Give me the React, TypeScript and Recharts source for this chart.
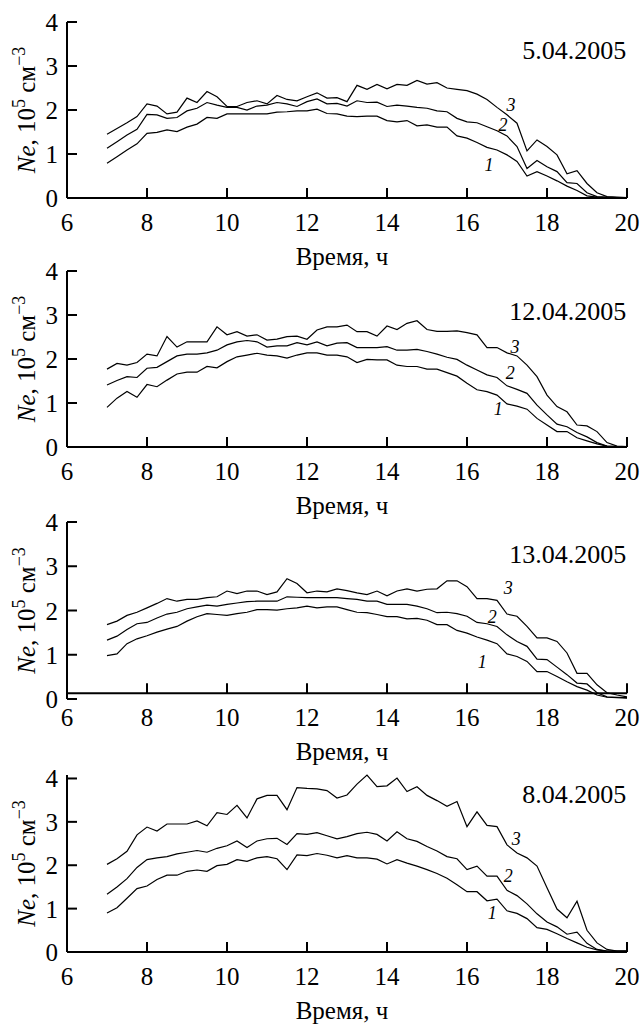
import React from "react";
import { LineChart, Line, XAxis, YAxis, ReferenceDot, ReferenceLine } from "recharts";

// time of day, hours (15-min sampling)
const TIMES = [
  7, 7.25, 7.5, 7.75, 8, 8.25, 8.5, 8.75, 9, 9.25, 9.5, 9.75, 10, 10.25, 10.5, 10.75,
  11, 11.25, 11.5, 11.75, 12, 12.25, 12.5, 12.75, 13, 13.25, 13.5, 13.75, 14, 14.25,
  14.5, 14.75, 15, 15.25, 15.5, 15.75, 16, 16.25, 16.5, 16.75, 17, 17.25, 17.5, 17.75,
  18, 18.25, 18.5, 18.75, 19, 19.25, 19.5, 19.75, 20,
];

// 5.04.2005
const APR05_1 = [
  0.79, 0.94, 1.09, 1.23, 1.47, 1.49, 1.55, 1.51, 1.61, 1.68, 1.83, 1.81,
  1.91, 1.91, 1.91, 1.91, 1.91, 1.95, 1.96, 1.98, 1.98, 2.02, 1.92, 1.91,
  1.86, 1.85, 1.86, 1.86, 1.76, 1.73, 1.76, 1.64, 1.66, 1.61, 1.61, 1.41,
  1.36, 1.26, 1.15, 1.09, 0.98, 0.83, 0.5, 0.6, 0.5, 0.39, 0.27, 0.17,
  0.05, 0.02, 0.01, 0.01, 0.01,
];
const APR05_2 = [
  1.13, 1.28, 1.43, 1.56, 1.9, 1.89, 1.81, 1.83, 1.98, 2.04, 2.17, 2.11,
  2.06, 2.06, 2.0, 2.09, 2.11, 2.17, 2.14, 2.08, 2.19, 2.25, 2.14, 2.15,
  2.09, 2.21, 2.17, 2.18, 2.08, 2.11, 2.09, 2.06, 2.04, 1.98, 1.96, 1.81,
  1.73, 1.71, 1.62, 1.53, 1.41, 1.17, 0.67, 0.85, 0.71, 0.6, 0.35, 0.33,
  0.12, 0.03, 0.02, 0.01, 0.01,
];
const APR05_3 = [
  1.45, 1.58, 1.71, 1.85, 2.14, 2.09, 1.91, 1.95, 2.27, 2.17, 2.42, 2.3,
  2.08, 2.08, 2.17, 2.21, 2.14, 2.33, 2.24, 2.21, 2.3, 2.39, 2.27, 2.28,
  2.19, 2.56, 2.47, 2.58, 2.48, 2.58, 2.56, 2.67, 2.59, 2.62, 2.5, 2.47,
  2.44, 2.36, 2.24, 2.06, 1.89, 1.7, 1.07, 1.32, 1.17, 0.98, 0.55, 0.62,
  0.33, 0.12, 0.03, 0.02, 0.01,
];

// 12.04.2005
const APR12_1 = [
  0.9, 1.11, 1.26, 1.13, 1.42, 1.37, 1.52, 1.66, 1.7, 1.7, 1.83, 1.8,
  1.94, 2.05, 2.09, 2.13, 2.09, 2.07, 2.02, 2.09, 2.14, 2.14, 2.09, 2.09,
  2.05, 1.92, 1.99, 1.98, 1.98, 1.86, 1.83, 1.83, 1.77, 1.77, 1.69, 1.61,
  1.45, 1.3, 1.26, 1.18, 0.98, 0.93, 0.86, 0.65, 0.5, 0.35, 0.35, 0.21,
  0.14, 0.07, 0.02, 0.01, 0.01,
];
const APR12_2 = [
  1.41, 1.51, 1.6, 1.58, 1.79, 1.81, 1.94, 2.07, 2.11, 2.11, 2.14, 2.2,
  2.32, 2.39, 2.42, 2.39, 2.27, 2.3, 2.3, 2.37, 2.32, 2.39, 2.3, 2.36,
  2.37, 2.26, 2.26, 2.26, 2.28, 2.2, 2.2, 2.22, 2.17, 2.11, 2.04, 1.99,
  1.86, 1.75, 1.64, 1.58, 1.39, 1.31, 1.22, 0.95, 0.73, 0.52, 0.46, 0.33,
  0.23, 0.1, 0.02, 0.01, 0.01,
];
const APR12_3 = [
  1.77, 1.9, 1.86, 1.92, 2.11, 2.07, 2.51, 2.27, 2.39, 2.39, 2.39, 2.73,
  2.55, 2.62, 2.52, 2.55, 2.43, 2.45, 2.51, 2.52, 2.45, 2.66, 2.73, 2.73,
  2.77, 2.62, 2.62, 2.52, 2.75, 2.67, 2.81, 2.87, 2.67, 2.63, 2.63, 2.64,
  2.6, 2.55, 2.26, 2.26, 2.14, 2.07, 1.86, 1.6, 1.18, 0.92, 0.8, 0.5,
  0.48, 0.35, 0.1, 0.02, 0.01,
];

// 13.04.2005
const APR13_1 = [
  0.98, 1.02, 1.25, 1.36, 1.43, 1.51, 1.58, 1.64, 1.76, 1.86, 1.93, 1.91,
  1.89, 1.93, 1.96, 2.02, 2.02, 2.01, 2.04, 2.06, 2.1, 2.06, 2.08, 2.08,
  2.02, 1.96, 1.95, 1.91, 1.86, 1.86, 1.81, 1.82, 1.78, 1.68, 1.68, 1.55,
  1.49, 1.4, 1.33, 1.25, 1.02, 0.96, 0.85, 0.62, 0.62, 0.51, 0.39, 0.28,
  0.2, 0.09, 0.04, 0.03, 0.02,
];
const APR13_2 = [
  1.33, 1.42, 1.57, 1.7, 1.73, 1.83, 1.92, 1.96, 2.04, 2.08, 2.12, 2.1,
  2.14, 2.17, 2.2, 2.21, 2.21, 2.21, 2.31, 2.3, 2.29, 2.29, 2.29, 2.29,
  2.27, 2.25, 2.21, 2.21, 2.14, 2.14, 2.14, 2.1, 2.04, 1.95, 1.96, 1.93,
  1.87, 1.73, 1.7, 1.64, 1.45, 1.3, 1.19, 0.9, 0.89, 0.72, 0.55, 0.36,
  0.34, 0.14, 0.05, 0.04, 0.03,
];
const APR13_3 = [
  1.68, 1.76, 1.89, 1.96, 2.06, 2.16, 2.27, 2.21, 2.25, 2.25, 2.29, 2.31,
  2.44, 2.38, 2.44, 2.44, 2.36, 2.42, 2.72, 2.61, 2.4, 2.44, 2.42, 2.49,
  2.45, 2.4, 2.36, 2.44, 2.33, 2.44, 2.49, 2.44, 2.48, 2.49, 2.67, 2.67,
  2.54, 2.27, 2.27, 2.23, 1.92, 1.87, 1.64, 1.38, 1.38, 1.3, 1.04, 0.58,
  0.58, 0.32, 0.14, 0.09, 0.05,
];

// 8.04.2005
const APR08_1 = [
  0.9, 1.02, 1.24, 1.46, 1.52, 1.67, 1.77, 1.77, 1.86, 1.89, 1.86, 1.99,
  2.02, 2.13, 2.09, 2.17, 2.2, 2.15, 1.9, 2.24, 2.22, 2.27, 2.23, 2.17,
  2.22, 2.17, 2.17, 2.14, 2.03, 2.13, 2.05, 1.98, 1.9, 1.81, 1.7, 1.55,
  1.39, 1.39, 1.18, 1.22, 0.95, 0.89, 0.77, 0.56, 0.52, 0.42, 0.31, 0.21,
  0.11, 0.05, 0.02, 0.02, 0.02,
];
const APR08_2 = [
  1.33, 1.5, 1.69, 1.95, 2.13, 2.17, 2.2, 2.26, 2.3, 2.34, 2.3, 2.39,
  2.45, 2.56, 2.41, 2.56, 2.61, 2.62, 2.48, 2.73, 2.71, 2.75, 2.68, 2.61,
  2.66, 2.73, 2.76, 2.71, 2.56, 2.77, 2.61, 2.55, 2.43, 2.33, 2.2, 2.15,
  1.9, 1.98, 1.75, 1.75, 1.42, 1.3, 1.11, 0.88, 0.69, 0.58, 0.41, 0.46,
  0.2, 0.06, 0.02, 0.02, 0.02,
];
const APR08_3 = [
  2.02, 2.15, 2.32, 2.7, 2.88, 2.79, 2.95, 2.95, 2.95, 3.02, 2.91, 3.21,
  3.17, 3.38, 3.09, 3.53, 3.61, 3.61, 3.28, 3.79, 3.77, 3.76, 3.72, 3.55,
  3.62, 3.87, 4.08, 3.81, 3.83, 4.01, 3.7, 3.81, 3.61, 3.49, 3.36, 3.47,
  2.89, 3.23, 2.92, 2.89, 2.47, 2.28, 2.17, 1.98, 1.48, 0.99, 0.79, 1.17,
  0.5, 0.21, 0.06, 0.02, 0.02,
];

const X_TICKS = [6, 8, 10, 12, 14, 16, 18, 20];
const Y_TICKS = [0, 1, 2, 3, 4];
const DATES = ["5.04.2005", "12.04.2005", "13.04.2005", "8.04.2005"];
const CURVE_NAMES = ["1", "2", "3"];

const FONT = '"Liberation Serif", "Times New Roman", serif';
const AXIS = { stroke: "#000", strokeWidth: 2 };
const W = 642;
const PAD_TOP = 20;
const X_AXIS_H = 74;

const PANELS = [
  {
    series: [APR05_1, APR05_2, APR05_3], date: DATES[0], top: 22, h: 176,
    dateY: 3.36, axisAt: 0, tags: [[16.55, 0.75], [16.9, 1.66], [17.1, 2.11]],
  },
  {
    series: [APR12_1, APR12_2, APR12_3], date: DATES[1], top: 271, h: 176,
    dateY: 3.09, axisAt: 0, tags: [[16.78, 0.86], [17.08, 1.68], [17.2, 2.27]],
  },
  {
    series: [APR13_1, APR13_2, APR13_3], date: DATES[2], top: 522, h: 177,
    dateY: 3.27, axisAt: 0.13, tags: [[16.38, 0.84], [16.63, 1.86], [17.03, 2.5]],
  },
  {
    series: [APR08_1, APR08_2, APR08_3], date: DATES[3], top: 775, h: 177,
    dateY: 3.64, axisAt: 0, tags: [[16.63, 0.89], [17.03, 1.75], [17.23, 2.61]],
  },
];

function XTick(props: any) {
  const { x, y, payload, lift = 0 } = props;
  const ay = y - lift;
  return (
    <g>
      {payload.value !== 6 && (
        <line x1={x} y1={ay} x2={x} y2={ay - 10} stroke="#000" strokeWidth={2} />
      )}
      <text x={x} y={ay + 33} textAnchor="middle" fontFamily={FONT} fontSize={25} fill="#000">
        {payload.value}
      </text>
    </g>
  );
}

function YTick(props: any) {
  const { x, y, payload } = props;
  return (
    <g>
      <line x1={x} y1={y} x2={x + 10} y2={y} stroke="#000" strokeWidth={2} />
      <text x={x - 9} y={y + 9} textAnchor="end" fontFamily={FONT} fontSize={25} fill="#000">
        {payload.value}
      </text>
    </g>
  );
}

function Panel({ cfg }: { cfg: (typeof PANELS)[number] }) {
  const data = TIMES.map((t, i) => ({
    t,
    s1: cfg.series[0][i],
    s2: cfg.series[1][i],
    s3: cfg.series[2][i],
  }));
  const lift = (cfg.axisAt * cfg.h) / 4;

  return (
    <div style={{ position: "absolute", left: 0, top: cfg.top - PAD_TOP }}>
      <LineChart
        width={W}
        height={PAD_TOP + cfg.h + X_AXIS_H}
        data={data}
        margin={{ top: PAD_TOP, right: 15, bottom: 0, left: 0 }}
      >
        <XAxis
          dataKey="t"
          type="number"
          domain={[6, 20]}
          ticks={X_TICKS}
          interval={0}
          height={X_AXIS_H}
          tickSize={0}
          tickMargin={0}
          tickLine={false}
          axisLine={cfg.axisAt ? false : AXIS}
          tick={<XTick lift={lift} />}
          label={(p: any) => {
            const vb = p.viewBox;
            return (
              <text
                x={vb.x + vb.width / 2 - 5}
                y={vb.y - lift + 67}
                textAnchor="middle"
                fontFamily={FONT}
                fontSize={25}
                fill="#000"
              >
                Время, ч
              </text>
            );
          }}
        />
        <YAxis
          type="number"
          domain={[0, 4]}
          ticks={Y_TICKS}
          interval={0}
          width={67}
          tickSize={0}
          tickMargin={0}
          tickLine={false}
          axisLine={AXIS}
          tick={<YTick />}
          label={(p: any) => {
            const vb = p.viewBox;
            return (
              <text
                transform={`translate(${vb.x + 35}, ${vb.y + vb.height / 2}) rotate(-90)`}
                textAnchor="middle"
                fontFamily={FONT}
                fontSize={25}
                fill="#000"
              >
                <tspan fontStyle="italic">Ne</tspan>
                <tspan>, 10</tspan>
                <tspan dy={-10} fontSize={18}>5</tspan>
                <tspan dy={10}> см</tspan>
                <tspan dy={-10} fontSize={18}>−3</tspan>
              </text>
            );
          }}
        />
        {cfg.axisAt ? <ReferenceLine y={cfg.axisAt} stroke="#000" strokeWidth={2} /> : null}
        {["s1", "s2", "s3"].map((k) => (
          <Line
            key={k}
            type="linear"
            dataKey={k}
            stroke="#000"
            strokeWidth={1.2}
            dot={false}
            isAnimationActive={false}
          />
        ))}
        <ReferenceDot
          x={19.98}
          y={cfg.dateY}
          r={0}
          shape={(p: any) => (
            <text x={p.cx} y={p.cy + 9} textAnchor="end" fontFamily={FONT} fontSize={26} fill="#000">
              {cfg.date}
            </text>
          )}
        />
        {cfg.tags.map(([tx, ty], i) => (
          <ReferenceDot
            key={i}
            x={tx}
            y={ty}
            r={0}
            shape={(p: any) => (
              <text
                x={p.cx}
                y={p.cy + 6}
                textAnchor="middle"
                fontFamily={FONT}
                fontStyle="italic"
                fontSize={18}
                fill="#000"
              >
                {CURVE_NAMES[i]}
              </text>
            )}
          />
        ))}
      </LineChart>
    </div>
  );
}

export default function App() {
  return (
    <div
      style={{
        position: "absolute",
        left: 0,
        top: 0,
        width: W,
        height: 1025,
        overflow: "hidden",
        background: "#fff",
      }}
    >
      {PANELS.map((cfg, i) => (
        <Panel key={i} cfg={cfg} />
      ))}
    </div>
  );
}
